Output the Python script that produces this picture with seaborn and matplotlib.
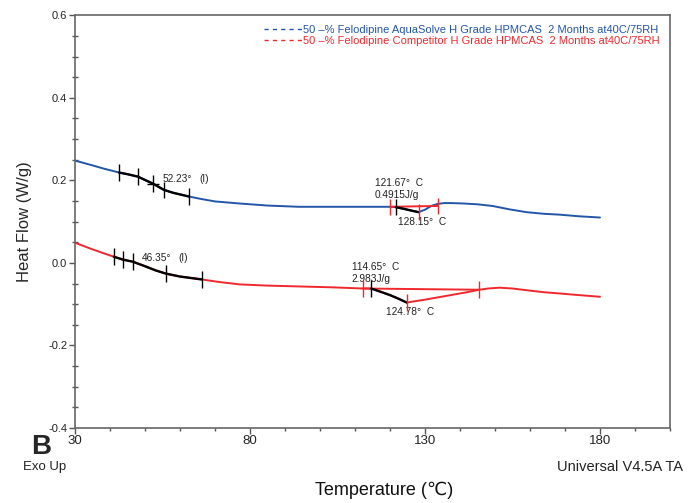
import matplotlib
matplotlib.use("Agg")
import matplotlib.pyplot as plt
import seaborn as sns
import numpy as np
import pandas as pd
from matplotlib.lines import Line2D
from matplotlib.ticker import MultipleLocator, FixedLocator

# --- data ---
blue_T = [30, 34.3, 38, 42.6, 45, 48, 50, 52.3, 55.4, 58, 62.5, 66, 70, 77, 85, 94,
          100, 106, 112, 117, 119.9, 121.67, 124, 126, 128.15, 130, 131.8, 133.6, 135.5,
          137.5, 141, 145, 149.3, 154, 159, 164, 168.4, 174, 180]
blue_HF = [0.248, 0.238, 0.229, 0.219, 0.215, 0.209, 0.201, 0.192, 0.177, 0.170, 0.161,
           0.155, 0.149, 0.144, 0.139, 0.136, 0.136, 0.136, 0.136, 0.136, 0.136, 0.135,
           0.131, 0.127, 0.123, 0.129, 0.138, 0.143, 0.145, 0.145, 0.144, 0.142, 0.138,
           0.130, 0.123, 0.119, 0.117, 0.113, 0.110]

red_T = [30, 34.3, 38, 41.1, 43.7, 46.5, 50, 53, 56, 60, 66.2, 71, 77, 85, 94, 103,
         112.2, 114.65, 117, 120, 122.5, 124.78, 127, 130, 134, 138, 142, 145.5, 148,
         151.3, 155, 159.8, 164, 168.4, 174, 180]
red_HF = [0.049, 0.035, 0.024, 0.015, 0.008, 0.003, -0.008, -0.018, -0.026, -0.033,
          -0.040, -0.046, -0.052, -0.055, -0.057, -0.059, -0.062, -0.062, -0.069, -0.078,
          -0.087, -0.096, -0.093, -0.089, -0.083, -0.077, -0.071, -0.065, -0.062, -0.060,
          -0.062, -0.067, -0.071, -0.074, -0.078, -0.082]

# glass transition analysis ticks
blue_tg_T = [42.6, 48.0, 52.3, 55.4, 62.5]
blue_tg_HF = [0.219, 0.209, 0.192, 0.177, 0.161]
red_tg_T = [41.1, 43.7, 46.5, 56.0, 66.2]
red_tg_HF = [0.015, 0.008, 0.003, -0.026, -0.040]

# melting / peak integration ticks: start, onset, peak, end
blue_pk_T = [119.9, 121.67, 128.15, 133.6]
blue_pk_HF = [0.136, 0.135, 0.123, 0.138]
red_pk_T = [112.2, 114.65, 124.78, 145.5]
red_pk_HF = [-0.062, -0.062, -0.096, -0.065]

series = ["50 –% Felodipine AquaSolve H Grade HPMCAS  2 Months at40C/75RH",
          "50 –% Felodipine Competitor H Grade HPMCAS  2 Months at40C/75RH"]
colors = ["#2356a8", "#f0282d"]

df = pd.concat([
    pd.DataFrame({"T": blue_T, "HF": blue_HF, "s": series[0]}),
    pd.DataFrame({"T": red_T, "HF": red_HF, "s": series[1]}),
])

sns.set_style("ticks")
plt.rcParams["font.family"] = ["Liberation Sans", "DejaVu Sans"]
NARROW = ["Liberation Sans Narrow", "Liberation Sans", "DejaVu Sans"]

fig = plt.figure(figsize=(6.89, 5.03), dpi=100)
ax = fig.add_axes([75 / 689, 1 - 428 / 503, 595 / 689, (428 - 15.3) / 503])

sns.lineplot(data=df, x="T", y="HF", hue="s", palette=colors, sort=False,
             estimator=None, lw=1.4, legend=False, ax=ax)

bT, bH = np.array(blue_T), np.array(blue_HF)
rT, rH = np.array(red_T), np.array(red_HF)

# black overlays of analysed regions
for T, H, lo, hi in [(bT, bH, blue_tg_T[0], blue_tg_T[-1]),
                     (rT, rH, red_tg_T[0], red_tg_T[-1]),
                     (bT, bH, blue_pk_T[1], blue_pk_T[2]),
                     (rT, rH, red_pk_T[1], red_pk_T[2])]:
    m = (T >= lo) & (T <= hi)
    ax.plot(T[m], H[m], color="black", lw=1.7, zorder=4)

# integration baselines
ax.plot([blue_pk_T[0], blue_pk_T[-1]], [blue_pk_HF[0], blue_pk_HF[-1]],
        color=colors[1], lw=1.4, zorder=3)
ax.plot([red_pk_T[0], red_pk_T[-1]], [red_pk_HF[0], red_pk_HF[-1]],
        color=colors[1], lw=1.4, zorder=3)

tk = 0.02
for xs, ys in [(blue_tg_T, blue_tg_HF), (red_tg_T, red_tg_HF)]:
    ax.vlines(xs, np.array(ys) - tk, np.array(ys) + tk, color="black", lw=1, zorder=5)
ax.plot(blue_tg_T[2], blue_tg_HF[2], marker="_", ms=9, color="black", zorder=5)

for xs, ys in [(blue_pk_T, blue_pk_HF), (red_pk_T, red_pk_HF)]:
    cols = [colors[1], "black", colors[1], colors[1]]
    ax.vlines(xs, np.array(ys) - tk, np.array(ys) + tk, colors=cols, lw=1, zorder=5)

# annotations
akw = dict(fontsize=7.3, color="#222222", va="center", ha="left")
ax.text(55.1, 0.204, "52.23°", **akw)
ax.text(65.6, 0.204, "(I)", **akw)
ax.text(49.1, 0.013, "46.35°", **akw)
ax.text(59.6, 0.013, "(I)", **akw)
ax.text(115.6, 0.193, "121.67°  C", **akw)
ax.text(115.6, 0.165, "0.4915J/g", **akw)
ax.text(122.2, 0.099, "128.15°  C", **akw)
ax.text(109.0, -0.009, "114.65°  C", **akw)
ax.text(109.0, -0.040, "2.983J/g", **akw)
ax.text(119.0, -0.120, "124.78°  C", **akw)

# axes styling
ax.set_xlim(30, 200)
ax.set_ylim(-0.4, 0.6)
ax.xaxis.set_major_locator(FixedLocator([30, 80, 130, 180]))
ax.xaxis.set_minor_locator(MultipleLocator(10))
ax.yaxis.set_minor_locator(MultipleLocator(0.05))
ax.set_yticks([0.6, 0.4, 0.2, 0.0, -0.2, -0.4])
ax.set_yticklabels(["0.6", "0.4", "0.2", "0.0", "-0.2", "-0.4"])
ax.tick_params(axis="y", which="major", direction="out", length=4, width=1,
               color="#555555", labelsize=8, pad=1.5, labelcolor="#222222")
ax.tick_params(axis="y", which="minor", direction="inout", length=5, width=1,
               color="#555555")
ax.tick_params(axis="x", which="major", direction="out", length=4, width=1,
               color="#555555", labelsize=9.5, pad=1, labelcolor="#222222")
ax.tick_params(axis="x", which="minor", direction="out", length=2, width=1,
               color="#555555")
for lab in ax.get_xticklabels():
    lab.set_family(NARROW)
for sp in ax.spines.values():
    sp.set_visible(True)
    sp.set_color("#666666")
    sp.set_linewidth(1.2)
ax.set_xlabel("")
ax.set_ylabel("Heat Flow (W/g)", fontsize=12, labelpad=12)

handles = [Line2D([], [], color=c, ls=(0, (3, 3)), lw=1) for c in colors]
ax.legend(handles, series, loc="upper right", bbox_to_anchor=(0.995, 0.995),
          frameon=False, labelcolor=colors, handlelength=3.4,
          handletextpad=0.1, labelspacing=0.05, borderpad=0.2,
          prop={"family": NARROW, "size": 8})

fig.text(31 / 689, 1 - 454 / 503, "B", fontsize=20, fontweight="bold",
         family=NARROW, ha="left", va="baseline")
fig.text(23 / 689, 1 - 467 / 503, "Exo Up", fontsize=9.5, family=NARROW,
         ha="left", va="center", color="#222222")
fig.text(683 / 689, 1 - 467 / 503, "Universal V4.5A TA", fontsize=10.5,
         family=NARROW, ha="right", va="center", color="#222222")
fig.text(384 / 689, 1 - 490 / 503, "Temperature (℃)", fontsize=13,
         family=NARROW, ha="center", va="center", color="#111111")

fig.savefig("out.png", dpi=100)
